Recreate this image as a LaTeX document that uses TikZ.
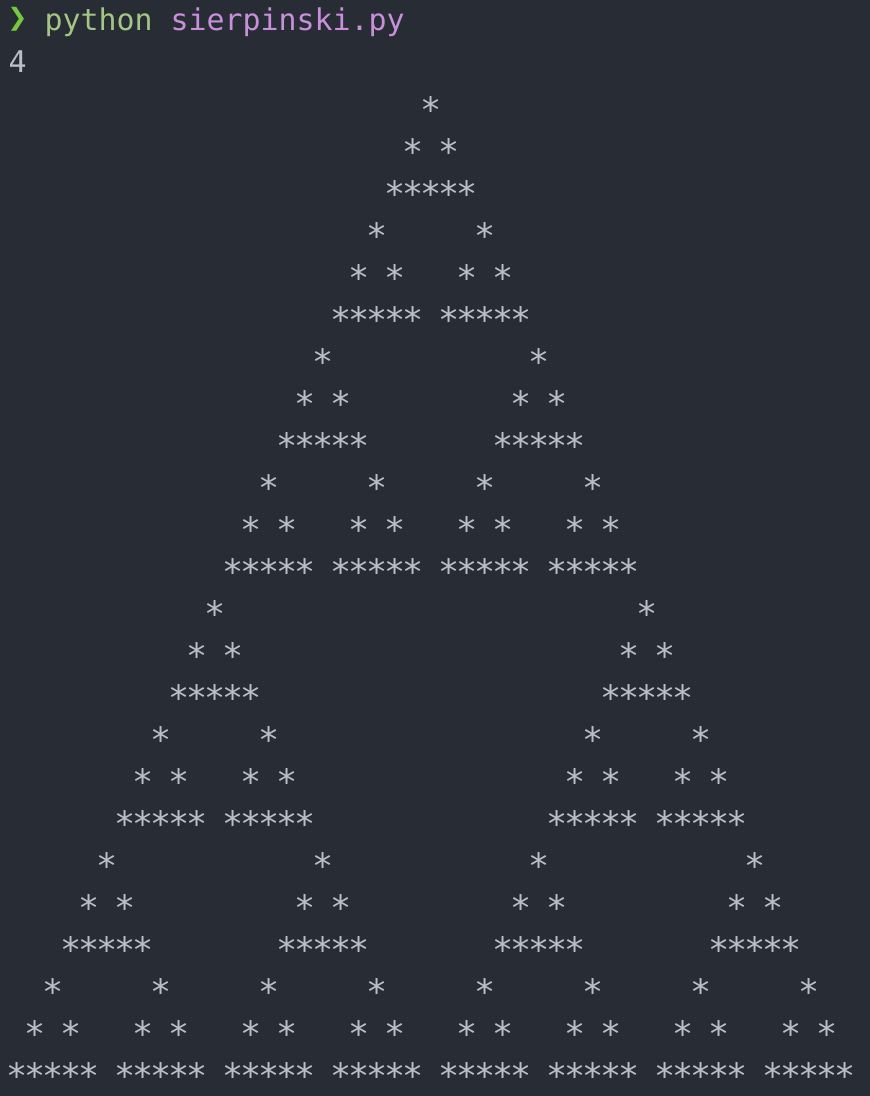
\documentclass[tikz,border=0pt]{standalone}
\usepackage{fontspec}
\setmonofont{DejaVu Sans Mono}
\newfontfamily\symfont{DejaVu Sans}
\definecolor{bg}{HTML}{282C34}
\definecolor{fg}{HTML}{B9BFCA}
\definecolor{promptgreen}{HTML}{76C83E}
\definecolor{cmdgreen}{HTML}{A3C586}
\definecolor{argpurple}{HTML}{C88FDA}
\tikzset{
  termtext/.style={inner sep=0pt, anchor=base west, font=\ttfamily\fontsize{29.9}{42}\selectfont},
  starmark/.style={inner sep=0pt, text=fg, font=\ttfamily\fontsize{35}{42}\selectfont},
}
\begin{document}
\begin{tikzpicture}[x=1pt,y=-1pt]
\fill[bg] (0,0) rectangle (870,1096);
\useasboundingbox (0,0) rectangle (870,1096);
\node[inner sep=0pt, text=promptgreen, font=\symfont\fontsize{24}{30}\selectfont] (prompt) at (17.5,19) {❯};
\node[termtext, text=cmdgreen] (cmd) at (44.5,30) {python};
\node[termtext, text=argpurple] (arg) at (170.5,30) {sierpinski.py};
\node[termtext, text=fg] (input) at (8.5,72) {4};
\foreach \r/\cols in {0/{23},%
 1/{22,24},%
 2/{21,22,23,24,25},%
 3/{20,26},%
 4/{19,21,25,27},%
 5/{18,19,20,21,22,24,25,26,27,28},%
 6/{17,29},%
 7/{16,18,28,30},%
 8/{15,16,17,18,19,27,28,29,30,31},%
 9/{14,20,26,32},%
 10/{13,15,19,21,25,27,31,33},%
 11/{12,13,14,15,16,18,19,20,21,22,24,25,26,27,28,30,31,32,33,34},%
 12/{11,35},%
 13/{10,12,34,36},%
 14/{9,10,11,12,13,33,34,35,36,37},%
 15/{8,14,32,38},%
 16/{7,9,13,15,31,33,37,39},%
 17/{6,7,8,9,10,12,13,14,15,16,30,31,32,33,34,36,37,38,39,40},%
 18/{5,17,29,41},%
 19/{4,6,16,18,28,30,40,42},%
 20/{3,4,5,6,7,15,16,17,18,19,27,28,29,30,31,39,40,41,42,43},%
 21/{2,8,14,20,26,32,38,44},%
 22/{1,3,7,9,13,15,19,21,25,27,31,33,37,39,43,45},%
 23/{0,1,2,3,4,6,7,8,9,10,12,13,14,15,16,18,19,20,21,22,24,25,26,27,28,30,31,32,33,34,36,37,38,39,40,42,43,44,45,46}}{%
  \foreach \c in \cols {
    \node[starmark] (s-\r-\c) at ({17.5+18*\c},{109.8+42*\r}) {*};
  }
}
\end{tikzpicture}
\end{document}
